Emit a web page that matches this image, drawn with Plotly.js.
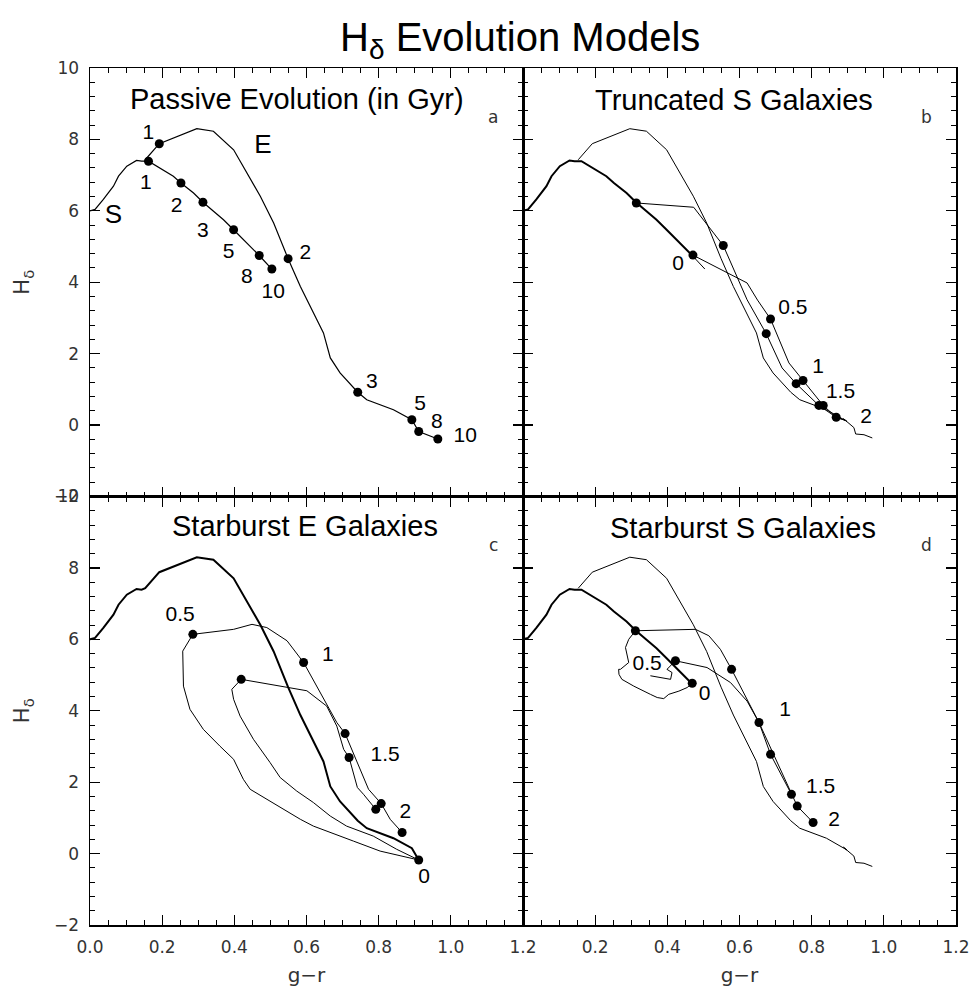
<!DOCTYPE html>
<html>
<head>
<meta charset="utf-8">
<script src="https://cdn.plot.ly/plotly-3.0.1.min.js"></script>
<style>html,body{margin:0;padding:0;background:#fff;}#chart{width:976px;height:992px;}</style>
</head>
<body>
<div id="chart"></div>
<script>
// ---------- DATA (g-r, H_delta) ----------
// passive spiral (S) model
const S_X = [0.000, 0.014, 0.037, 0.065, 0.079, 0.102, 0.129, 0.143, 0.162, 0.194, 0.231, 0.252, 0.287, 0.313, 0.342, 0.370, 0.398, 0.435, 0.469, 0.504];
const S_Y = [6.00, 6.04, 6.32, 6.69, 6.97, 7.25, 7.41, 7.39, 7.39, 7.20, 6.97, 6.78, 6.50, 6.24, 5.99, 5.75, 5.47, 5.10, 4.75, 4.37];
// passive elliptical (E) model
const E_X = [0.153, 0.192, 0.296, 0.342, 0.398, 0.435, 0.472, 0.509, 0.549, 0.583, 0.610, 0.647, 0.666, 0.693, 0.742, 0.767, 0.841, 0.892, 0.911, 0.964];
const E_Y = [7.43, 7.88, 8.30, 8.23, 7.71, 7.06, 6.41, 5.66, 4.66, 3.88, 3.32, 2.58, 1.88, 1.46, 0.92, 0.71, 0.43, 0.15, -0.18, -0.39];
const E_TAIL_X = [0.892, 0.898, 0.888, 0.917, 0.922, 0.945, 0.968];
const E_TAIL_Y = [0.15, 0.10, 0.18, -0.07, -0.25, -0.27, -0.36];
// panel a: age markers (Gyr)
const AGES = ['1', '2', '3', '5', '8', '10'];
const S_AGE_X = [0.162, 0.252, 0.313, 0.398, 0.469, 0.504];
const S_AGE_Y = [7.39, 6.78, 6.24, 5.47, 4.75, 4.37];
const S_LAB_X = [0.155, 0.240, 0.313, 0.384, 0.435, 0.508];
const S_LAB_Y = [6.76, 6.12, 5.42, 4.82, 4.12, 3.70];
const E_AGE_X = [0.192, 0.549, 0.742, 0.892, 0.911, 0.964];
const E_AGE_Y = [7.88, 4.66, 0.92, 0.15, -0.18, -0.39];
const E_LAB_X = [0.162, 0.597, 0.781, 0.915, 0.961, 1.040];
const E_LAB_Y = [8.16, 4.79, 1.18, 0.57, 0.06, -0.32];

// panel b: truncated S galaxies
const T1_X = [0.314, 0.473, 0.555, 0.584, 0.621, 0.674, 0.718, 0.757, 0.820, 0.868, 0.894];
const T1_Y = [6.22, 6.10, 5.03, 4.35, 3.51, 2.56, 1.60, 1.16, 0.55, 0.22, 0.13];
const T1_DOT_X = [0.314, 0.555, 0.674, 0.757, 0.820];
const T1_DOT_Y = [6.22, 5.03, 2.56, 1.16, 0.55];
const T2_X = [0.471, 0.621, 0.650, 0.686, 0.737, 0.776, 0.832, 0.868, 0.894];
const T2_Y = [4.76, 3.98, 3.50, 2.97, 1.74, 1.25, 0.55, 0.22, 0.13];
const T2_DOT_X = [0.471, 0.686, 0.776, 0.832, 0.868];
const T2_DOT_Y = [4.76, 2.97, 1.25, 0.55, 0.22];
const TIMES = ['0', '0.5', '1', '1.5', '2'];
const B_LAB_X = [0.430, 0.748, 0.818, 0.880, 0.951];
const B_LAB_Y = [4.49, 3.25, 1.60, 0.90, 0.20];

// panel c: starburst E galaxies
const CB1_X = [0.911, 0.860, 0.804, 0.730, 0.666, 0.619, 0.583, 0.527, 0.490, 0.444, 0.425, 0.398, 0.360, 0.314, 0.277, 0.259, 0.257, 0.285, 0.398, 0.449, 0.490, 0.546, 0.592, 0.647, 0.684, 0.707, 0.749, 0.772, 0.807, 0.832, 0.865];
const CB1_Y = [-0.18, -0.07, 0.07, 0.35, 0.59, 0.77, 0.96, 1.29, 1.52, 1.80, 2.08, 2.64, 3.01, 3.48, 4.04, 4.69, 5.67, 6.14, 6.28, 6.42, 6.33, 5.96, 5.35, 4.32, 3.67, 3.36, 2.36, 1.80, 1.40, 0.96, 0.59];
const CB2_X = [0.911, 0.850, 0.785, 0.711, 0.666, 0.619, 0.573, 0.527, 0.499, 0.453, 0.416, 0.398, 0.393, 0.419, 0.601, 0.656, 0.684, 0.703, 0.718, 0.741, 0.758, 0.792];
const CB2_Y = [-0.18, 0.12, 0.49, 0.77, 1.05, 1.43, 1.75, 2.13, 2.55, 3.20, 3.85, 4.32, 4.60, 4.88, 4.56, 4.13, 3.57, 2.92, 2.69, 1.85, 1.66, 1.24];
const C_DOT_X = [0.911, 0.285, 0.592, 0.707, 0.807, 0.865, 0.419, 0.718, 0.792];
const C_DOT_Y = [-0.18, 6.14, 5.35, 3.36, 1.40, 0.59, 4.88, 2.69, 1.24];
const C_LAB_X = [0.926, 0.250, 0.659, 0.818, 0.874];
const C_LAB_Y = [-0.67, 6.66, 5.54, 2.74, 1.15];

// panel d: starburst S galaxies
const DB1_X = [0.3115, 0.478, 0.515, 0.547, 0.578, 0.654, 0.686, 0.720, 0.744];
const DB1_Y = [6.24, 6.28, 6.10, 5.72, 5.16, 3.67, 2.78, 2.10, 1.66];
const DB2_X = [0.4225, 0.510, 0.575, 0.621, 0.654, 0.700, 0.744, 0.760, 0.804];
const DB2_Y = [5.40, 5.21, 4.79, 4.27, 3.67, 2.65, 1.66, 1.33, 0.87];
const BLOB_X = [0.469, 0.455, 0.432, 0.418, 0.404, 0.390, 0.372, 0.353, 0.307, 0.274, 0.266, 0.265, 0.270, 0.293, 0.288, 0.284, 0.293, 0.3115];
const BLOB_Y = [4.77, 4.65, 4.55, 4.51, 4.46, 4.34, 4.37, 4.46, 4.69, 4.88, 5.02, 5.16, 5.16, 5.35, 5.54, 5.77, 6.00, 6.24];
const JAG_X = [0.353, 0.380, 0.409, 0.413, 0.399, 0.4225];
const JAG_Y = [4.98, 4.93, 4.88, 5.07, 5.16, 5.40];
const D_DOT_X = [0.3115, 0.469, 0.4225, 0.578, 0.654, 0.686, 0.744, 0.760, 0.804];
const D_DOT_Y = [6.24, 4.77, 5.40, 5.16, 3.67, 2.78, 1.66, 1.33, 0.87];
const D_LAB_X = [0.503, 0.344, 0.726, 0.825, 0.862];
const D_LAB_Y = [4.44, 5.30, 4.01, 1.85, 0.92];

const PANEL_TITLES = ['Passive Evolution (in Gyr)', 'Truncated S Galaxies', 'Starburst E Galaxies', 'Starburst S Galaxies'];
const PANEL_LETTERS = ['a', 'b', 'c', 'd'];
const X_TICKS = [0, 0.2, 0.4, 0.6, 0.8, 1.0, 1.2];
const X_TICKS_RIGHT = [0.2, 0.4, 0.6, 0.8, 1.0, 1.2];

// ---------- helpers ----------
const TXT_FONT = 'Liberation Sans, Arial, Helvetica, sans-serif';
const TICK_FONT = 'DejaVu Sans, Liberation Sans, sans-serif';
function line(xs, ys, ax, w) {
  return {x: xs, y: ys, xaxis: 'x' + ax, yaxis: 'y' + ax, type: 'scatter', mode: 'lines',
          line: {color: '#000', width: w || 1}, hoverinfo: 'skip', showlegend: false};
}
function dots(xs, ys, ax) {
  return {x: xs, y: ys, xaxis: 'x' + ax, yaxis: 'y' + ax, type: 'scatter', mode: 'markers',
          marker: {color: '#000', size: 9}, hoverinfo: 'skip', showlegend: false};
}
function labels(xs, ys, txt, ax, size) {
  return {x: xs, y: ys, text: txt, xaxis: 'x' + ax, yaxis: 'y' + ax, type: 'scatter', mode: 'text',
          textposition: 'middle center', textfont: {family: TXT_FONT, size: size || 21, color: '#000'},
          hoverinfo: 'skip', showlegend: false};
}
const idx8 = 18, idx5 = 17;
const axA = '', axB = '2', axC = '3', axD = '4';
const traces = [
  // panel a
  line(S_X, S_Y, axA, 1.2),
  line(E_X, E_Y, axA, 1.2),
  dots(S_AGE_X, S_AGE_Y, axA),
  dots(E_AGE_X, E_AGE_Y, axA),
  labels(S_LAB_X, S_LAB_Y, AGES, axA),
  labels(E_LAB_X, E_LAB_Y, AGES, axA),
  labels([0.065, 0.479], [5.83, 7.79], ['S', 'E'], axA, 26),
  // panel b
  line(E_X.slice(0, idx5 + 1).concat(E_TAIL_X), E_Y.slice(0, idx5 + 1).concat(E_TAIL_Y), axB, 1),
  line(S_X.slice(idx8), S_Y.slice(idx8), axB, 1),
  line(S_X.slice(0, idx8 + 1), S_Y.slice(0, idx8 + 1), axB, 2),
  line(T1_X, T1_Y, axB, 1),
  line(T2_X, T2_Y, axB, 1),
  dots(T1_DOT_X, T1_DOT_Y, axB),
  dots(T2_DOT_X, T2_DOT_Y, axB),
  labels(B_LAB_X, B_LAB_Y, TIMES, axB),
  // panel c
  line(S_X.slice(0, 8).concat(E_X.slice(0, idx8 + 1)), S_Y.slice(0, 8).concat(E_Y.slice(0, idx8 + 1)), axC, 2),
  line(CB1_X, CB1_Y, axC, 1),
  line(CB2_X, CB2_Y, axC, 1),
  dots(C_DOT_X, C_DOT_Y, axC),
  labels(C_LAB_X, C_LAB_Y, TIMES, axC),
  // panel d
  line(E_X.slice(0, idx5 + 1).concat(E_TAIL_X), E_Y.slice(0, idx5 + 1).concat(E_TAIL_Y), axD, 1),
  line(S_X.slice(0, idx8 + 1), S_Y.slice(0, idx8 + 1), axD, 2),
  line(BLOB_X, BLOB_Y, axD, 1),
  line(JAG_X, JAG_Y, axD, 1),
  line(DB1_X, DB1_Y, axD, 1),
  line(DB2_X, DB2_Y, axD, 1),
  dots(D_DOT_X, D_DOT_Y, axD),
  labels(D_LAB_X, D_LAB_Y, TIMES, axD)
];

// ---------- axes ----------
const tickFont = {family: TICK_FONT, size: 17, color: '#333'};
function xAxis(domain, anchor, showLabels, vals) {
  const a = {domain: domain, anchor: anchor, range: [0, 1.2], showline: true, linecolor: '#000', linewidth: 1.5,
    mirror: 'allticks', ticks: 'inside', ticklen: 10, tickwidth: 1.3, tickcolor: '#000',
    tickmode: 'array', tickvals: vals, ticktext: vals.map(v => v.toFixed(1)),
    minor: {dtick: 0.05, tick0: 0, ticks: 'inside', ticklen: 5, tickwidth: 1, tickcolor: '#000'},
    showgrid: false, zeroline: false, showticklabels: showLabels, tickfont: tickFont, ticklabelstandoff: 6};
  if (showLabels) a.title = {text: 'g\u2212r', font: {family: TICK_FONT, size: 20, color: '#333'}, standoff: 12};
  return a;
}
function yAxis(domain, anchor, showLabels) {
  const a = {domain: domain, anchor: anchor, range: [-2, 10], showline: true, linecolor: '#000', linewidth: 1.5,
    mirror: 'allticks', ticks: 'inside', ticklen: 10, tickwidth: 1.3, tickcolor: '#000',
    tick0: 0, dtick: 2,
    minor: {dtick: 0.4, tick0: 0, ticks: 'inside', ticklen: 5, tickwidth: 1, tickcolor: '#000'},
    showgrid: false, zeroline: false, showticklabels: showLabels, tickfont: tickFont, ticklabelstandoff: 6};
  if (showLabels) a.title = {text: 'H<sub>\u03b4</sub>', font: {family: TICK_FONT, size: 21, color: '#333'}, standoff: 18};
  return a;
}

const annotations = [];
const titlePos = [[0.575, 9.13], [0.584, 9.11], [0.596, 9.18], [0.609, 9.13]];
const axNames = ['', '2', '3', '4'];
for (let i = 0; i < 4; i++) {
  annotations.push({xref: 'x' + axNames[i], yref: 'y' + axNames[i], x: titlePos[i][0], y: titlePos[i][1],
    text: PANEL_TITLES[i], showarrow: false, xanchor: 'center', yanchor: 'middle',
    font: {family: TXT_FONT, size: 29, color: '#000'}});
  annotations.push({xref: 'x' + axNames[i], yref: 'y' + axNames[i], x: 1.117, y: 8.64,
    text: PANEL_LETTERS[i], showarrow: false, xanchor: 'center', yanchor: 'middle',
    font: {family: TICK_FONT, size: 17, color: '#333'}});
}

const layout = {
  width: 976, height: 992,
  margin: {l: 90, r: 20, t: 68, b: 67},
  paper_bgcolor: '#fff', plot_bgcolor: '#fff',
  title: {text: 'H<sub>\u03b4</sub> Evolution Models', x: 0.533, xref: 'container', y: 0.963, yref: 'container',
          xanchor: 'center', yanchor: 'middle', font: {family: TXT_FONT, size: 40, color: '#000'}},
  showlegend: false,
  xaxis: xAxis([0, 0.5], 'y', false, X_TICKS),
  yaxis: yAxis([0.5, 1], 'x', true),
  xaxis2: xAxis([0.5, 1], 'y2', false, X_TICKS),
  yaxis2: yAxis([0.5, 1], 'x2', false),
  xaxis3: xAxis([0, 0.5], 'y3', true, X_TICKS),
  yaxis3: yAxis([0, 0.5], 'x3', true),
  xaxis4: xAxis([0.5, 1], 'y4', true, X_TICKS_RIGHT),
  yaxis4: yAxis([0, 0.5], 'x4', false),
  annotations: annotations
};

Plotly.newPlot('chart', traces, layout, {staticPlot: true, displayModeBar: false});
</script>
</body>
</html>
